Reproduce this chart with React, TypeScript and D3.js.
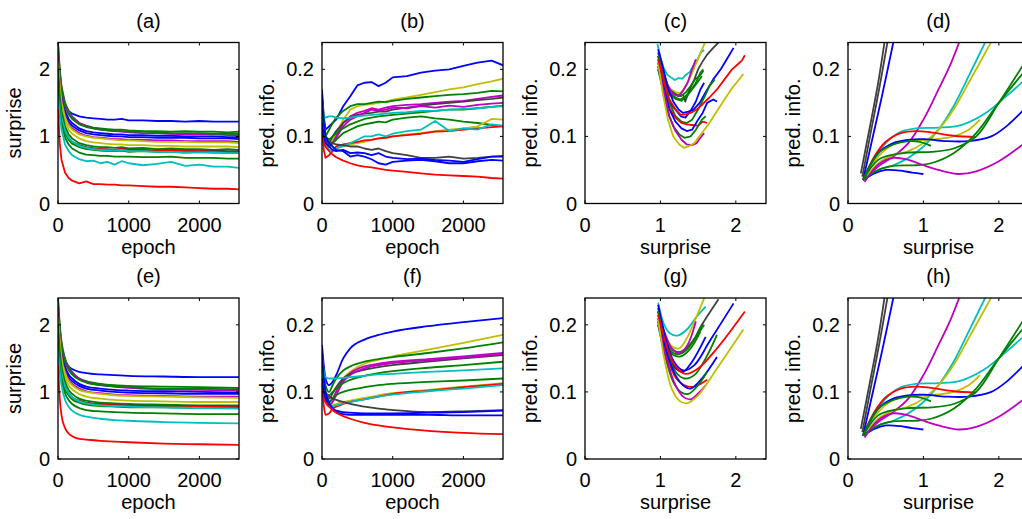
import React from 'react';
import * as d3 from 'd3';

const COLORS: Record<string, string> = {
  b: '#0000ff', g: '#008000', r: '#ff0000', c: '#00bfbf', m: '#bf00bf', y: '#bfbf00', k: '#404040',
};

// epochs for the noisy (top row) and smooth (bottom row) training curves
const epochsNoisy = [0, 25, 50, 100, 150, 200, 300, 400, 500, 600, 700, 800, 900, 1000, 1200, 1400, 1600, 1800, 2000, 2200, 2400, 2560];
const epochsSmooth = [0, 25, 50, 100, 150, 200, 300, 400, 600, 800, 1000, 1500, 2000, 2560];

const epochTicks = [0, 1000, 2000];
const surpriseTicks = [0, 1, 2];
const predTicks = [0, 0.1, 0.2];

// (a) surprise vs epoch (noisy)
const surpriseNoisy: [string, number[]][] = [
  ['b', [1.80, 1.62, 1.52, 1.44, 1.38, 1.34, 1.30, 1.28, 1.27, 1.26, 1.25, 1.25, 1.26, 1.24, 1.24, 1.23, 1.23, 1.22, 1.23, 1.22, 1.22, 1.22]],
  ['g', [2.40, 2.00, 1.75, 1.50, 1.38, 1.30, 1.20, 1.16, 1.13, 1.12, 1.11, 1.10, 1.10, 1.09, 1.08, 1.08, 1.07, 1.08, 1.07, 1.07, 1.06, 1.07]],
  ['m', [2.30, 1.95, 1.70, 1.48, 1.36, 1.28, 1.20, 1.15, 1.12, 1.10, 1.09, 1.08, 1.07, 1.06, 1.05, 1.05, 1.04, 1.03, 1.03, 1.03, 1.02, 1.02]],
  ['b', [2.20, 1.85, 1.60, 1.38, 1.26, 1.20, 1.12, 1.08, 1.06, 1.05, 1.04, 1.03, 1.03, 1.02, 1.02, 1.01, 1.01, 1.00, 1.00, 1.00, 0.99, 0.99]],
  ['b', [2.10, 1.80, 1.55, 1.32, 1.22, 1.16, 1.09, 1.05, 1.03, 1.02, 1.01, 1.00, 1.00, 0.99, 0.99, 0.98, 0.98, 0.98, 0.97, 0.97, 0.97, 0.96]],
  ['g', [2.40, 1.95, 1.70, 1.45, 1.33, 1.26, 1.18, 1.14, 1.12, 1.10, 1.09, 1.08, 1.08, 1.07, 1.07, 1.06, 1.05, 1.05, 1.05, 1.04, 1.04, 1.04]],
  ['m', [2.20, 1.80, 1.55, 1.30, 1.18, 1.12, 1.05, 1.01, 0.99, 0.98, 0.97, 0.96, 0.96, 0.95, 0.95, 0.94, 0.94, 0.93, 0.93, 0.93, 0.93, 0.92]],
  ['y', [2.10, 1.75, 1.50, 1.28, 1.16, 1.10, 1.03, 1.00, 0.98, 0.97, 0.96, 0.95, 0.94, 0.94, 0.93, 0.92, 0.92, 0.92, 0.91, 0.91, 0.91, 0.90]],
  ['y', [2.00, 1.70, 1.45, 1.22, 1.10, 1.04, 0.97, 0.93, 0.91, 0.90, 0.89, 0.88, 0.88, 0.87, 0.87, 0.86, 0.86, 0.85, 0.85, 0.85, 0.85, 0.84]],
  ['g', [2.00, 1.60, 1.38, 1.15, 1.03, 0.97, 0.90, 0.87, 0.85, 0.84, 0.84, 0.83, 0.84, 0.82, 0.83, 0.81, 0.82, 0.81, 0.81, 0.80, 0.81, 0.80]],
  ['k', [1.90, 1.50, 1.30, 1.08, 0.98, 0.92, 0.87, 0.84, 0.82, 0.81, 0.81, 0.80, 0.82, 0.80, 0.80, 0.79, 0.80, 0.79, 0.78, 0.79, 0.78, 0.78]],
  ['r', [1.80, 1.45, 1.25, 1.05, 0.96, 0.91, 0.86, 0.83, 0.82, 0.81, 0.80, 0.80, 0.81, 0.80, 0.79, 0.78, 0.79, 0.78, 0.78, 0.77, 0.77, 0.77]],
  ['g', [1.90, 1.50, 1.28, 1.05, 0.95, 0.89, 0.84, 0.81, 0.80, 0.79, 0.78, 0.78, 0.79, 0.77, 0.78, 0.77, 0.77, 0.76, 0.77, 0.76, 0.76, 0.76]],
  ['c', [1.70, 1.45, 1.28, 1.08, 0.98, 0.92, 0.86, 0.83, 0.81, 0.80, 0.79, 0.79, 0.80, 0.78, 0.78, 0.77, 0.77, 0.76, 0.76, 0.76, 0.75, 0.75]],
  ['g', [1.80, 1.40, 1.20, 0.98, 0.88, 0.82, 0.76, 0.73, 0.72, 0.71, 0.71, 0.70, 0.70, 0.70, 0.69, 0.69, 0.70, 0.68, 0.68, 0.68, 0.67, 0.67]],
  ['c', [1.60, 1.30, 1.10, 0.88, 0.78, 0.72, 0.66, 0.63, 0.64, 0.60, 0.62, 0.58, 0.63, 0.60, 0.57, 0.59, 0.62, 0.56, 0.58, 0.55, 0.55, 0.53]],
  ['r', [1.40, 0.90, 0.65, 0.46, 0.38, 0.34, 0.30, 0.33, 0.29, 0.29, 0.28, 0.28, 0.27, 0.27, 0.26, 0.25, 0.25, 0.24, 0.23, 0.22, 0.22, 0.21]],
];

// (e) surprise vs epoch (smooth)
const surpriseSmooth: [string, number[]][] = [
  ['b', [1.80, 1.65, 1.55, 1.45, 1.38, 1.34, 1.30, 1.28, 1.26, 1.25, 1.24, 1.23, 1.22, 1.22]],
  ['g', [2.40, 2.00, 1.75, 1.50, 1.38, 1.30, 1.20, 1.16, 1.12, 1.10, 1.09, 1.08, 1.07, 1.06]],
  ['m', [2.30, 1.95, 1.70, 1.48, 1.36, 1.28, 1.20, 1.15, 1.10, 1.08, 1.06, 1.04, 1.03, 1.02]],
  ['b', [2.20, 1.85, 1.60, 1.38, 1.26, 1.20, 1.12, 1.08, 1.05, 1.03, 1.02, 1.01, 1.00, 0.99]],
  ['b', [2.10, 1.80, 1.55, 1.32, 1.22, 1.16, 1.09, 1.05, 1.02, 1.00, 0.99, 0.98, 0.97, 0.97]],
  ['g', [2.40, 1.95, 1.70, 1.45, 1.33, 1.26, 1.18, 1.14, 1.10, 1.08, 1.07, 1.05, 1.05, 1.04]],
  ['m', [2.20, 1.80, 1.55, 1.30, 1.18, 1.12, 1.05, 1.01, 0.98, 0.96, 0.95, 0.94, 0.93, 0.93]],
  ['y', [2.10, 1.75, 1.50, 1.28, 1.16, 1.10, 1.03, 1.00, 0.97, 0.95, 0.94, 0.93, 0.92, 0.91]],
  ['y', [2.00, 1.70, 1.45, 1.22, 1.10, 1.04, 0.97, 0.93, 0.90, 0.88, 0.87, 0.86, 0.85, 0.85]],
  ['g', [2.00, 1.60, 1.38, 1.15, 1.03, 0.97, 0.90, 0.87, 0.84, 0.83, 0.82, 0.81, 0.80, 0.80]],
  ['k', [1.90, 1.50, 1.30, 1.08, 0.98, 0.92, 0.87, 0.84, 0.82, 0.81, 0.80, 0.79, 0.79, 0.78]],
  ['r', [1.80, 1.45, 1.25, 1.05, 0.96, 0.91, 0.86, 0.83, 0.81, 0.80, 0.79, 0.78, 0.78, 0.77]],
  ['g', [1.90, 1.50, 1.28, 1.05, 0.95, 0.89, 0.84, 0.81, 0.79, 0.78, 0.77, 0.77, 0.76, 0.76]],
  ['c', [1.70, 1.45, 1.28, 1.08, 0.98, 0.92, 0.86, 0.83, 0.80, 0.79, 0.78, 0.77, 0.76, 0.75]],
  ['g', [1.80, 1.40, 1.20, 0.98, 0.88, 0.82, 0.76, 0.73, 0.71, 0.70, 0.69, 0.68, 0.67, 0.67]],
  ['c', [1.60, 1.30, 1.10, 0.88, 0.78, 0.72, 0.66, 0.63, 0.60, 0.58, 0.57, 0.55, 0.54, 0.53]],
  ['r', [1.40, 0.90, 0.65, 0.46, 0.38, 0.34, 0.30, 0.29, 0.27, 0.26, 0.25, 0.23, 0.22, 0.21]],
];

// (b) predictive information vs epoch (noisy)
const predNoisy: [string, number[]][] = [
  ['b', [0.170, 0.130, 0.110, 0.115, 0.120, 0.125, 0.145, 0.160, 0.176, 0.180, 0.181, 0.175, 0.180, 0.188, 0.190, 0.195, 0.198, 0.200, 0.205, 0.210, 0.213, 0.206]],
  ['y', [0.150, 0.120, 0.100, 0.088, 0.095, 0.105, 0.125, 0.140, 0.145, 0.147, 0.148, 0.150, 0.152, 0.155, 0.158, 0.162, 0.166, 0.170, 0.173, 0.178, 0.182, 0.186]],
  ['g', [0.160, 0.125, 0.100, 0.110, 0.120, 0.128, 0.138, 0.145, 0.148, 0.148, 0.150, 0.152, 0.151, 0.153, 0.156, 0.158, 0.160, 0.162, 0.163, 0.165, 0.168, 0.167]],
  ['m', [0.140, 0.110, 0.090, 0.085, 0.090, 0.100, 0.120, 0.130, 0.135, 0.138, 0.142, 0.140, 0.143, 0.145, 0.147, 0.148, 0.150, 0.152, 0.153, 0.156, 0.159, 0.161]],
  ['k', [0.120, 0.105, 0.095, 0.090, 0.100, 0.108, 0.120, 0.128, 0.132, 0.134, 0.135, 0.137, 0.137, 0.140, 0.143, 0.146, 0.148, 0.150, 0.152, 0.154, 0.156, 0.158]],
  ['m', [0.130, 0.110, 0.095, 0.085, 0.090, 0.098, 0.115, 0.125, 0.130, 0.135, 0.140, 0.138, 0.140, 0.143, 0.142, 0.145, 0.143, 0.146, 0.144, 0.147, 0.149, 0.150]],
  ['g', [0.130, 0.110, 0.100, 0.095, 0.100, 0.105, 0.112, 0.118, 0.122, 0.126, 0.128, 0.130, 0.131, 0.132, 0.134, 0.136, 0.138, 0.140, 0.140, 0.142, 0.144, 0.146]],
  ['c', [0.150, 0.130, 0.128, 0.130, 0.130, 0.128, 0.127, 0.128, 0.130, 0.131, 0.132, 0.133, 0.134, 0.135, 0.136, 0.138, 0.138, 0.140, 0.141, 0.142, 0.144, 0.145]],
  ['g', [0.140, 0.110, 0.090, 0.085, 0.090, 0.095, 0.105, 0.110, 0.115, 0.118, 0.120, 0.122, 0.121, 0.125, 0.128, 0.130, 0.127, 0.125, 0.122, 0.120, 0.117, 0.115]],
  ['y', [0.120, 0.100, 0.085, 0.080, 0.080, 0.082, 0.085, 0.088, 0.090, 0.092, 0.095, 0.097, 0.098, 0.100, 0.103, 0.105, 0.108, 0.110, 0.112, 0.115, 0.126, 0.125]],
  ['r', [0.110, 0.080, 0.068, 0.072, 0.078, 0.085, 0.088, 0.090, 0.092, 0.094, 0.095, 0.097, 0.098, 0.100, 0.102, 0.104, 0.107, 0.108, 0.110, 0.112, 0.114, 0.115]],
  ['c', [0.130, 0.100, 0.085, 0.080, 0.080, 0.082, 0.086, 0.090, 0.095, 0.100, 0.100, 0.103, 0.100, 0.104, 0.108, 0.110, 0.123, 0.108, 0.112, 0.110, 0.118, 0.116]],
  ['k', [0.100, 0.098, 0.095, 0.092, 0.090, 0.088, 0.087, 0.085, 0.085, 0.082, 0.080, 0.082, 0.078, 0.075, 0.072, 0.068, 0.068, 0.070, 0.067, 0.068, 0.070, 0.071]],
  ['b', [0.120, 0.100, 0.090, 0.085, 0.080, 0.078, 0.080, 0.075, 0.076, 0.075, 0.072, 0.075, 0.070, 0.068, 0.066, 0.067, 0.065, 0.064, 0.062, 0.066, 0.070, 0.070]],
  ['b', [0.160, 0.120, 0.100, 0.090, 0.085, 0.080, 0.078, 0.070, 0.072, 0.070, 0.066, 0.060, 0.058, 0.062, 0.064, 0.065, 0.063, 0.060, 0.060, 0.063, 0.065, 0.064]],
  ['r', [0.100, 0.090, 0.085, 0.078, 0.073, 0.069, 0.064, 0.060, 0.057, 0.055, 0.054, 0.052, 0.050, 0.049, 0.047, 0.045, 0.043, 0.042, 0.041, 0.040, 0.038, 0.037]],
];

// (f) predictive information vs epoch (smooth)
const predSmooth: [string, number[]][] = [
  ['b', [0.170, 0.140, 0.120, 0.110, 0.115, 0.125, 0.150, 0.165, 0.178, 0.185, 0.190, 0.198, 0.204, 0.210]],
  ['y', [0.150, 0.120, 0.100, 0.085, 0.090, 0.100, 0.120, 0.130, 0.142, 0.148, 0.153, 0.163, 0.173, 0.185]],
  ['g', [0.160, 0.130, 0.110, 0.100, 0.110, 0.120, 0.132, 0.138, 0.145, 0.149, 0.152, 0.158, 0.165, 0.174]],
  ['m', [0.130, 0.110, 0.095, 0.085, 0.090, 0.100, 0.118, 0.128, 0.138, 0.142, 0.145, 0.149, 0.153, 0.158]],
  ['k', [0.120, 0.105, 0.095, 0.090, 0.098, 0.107, 0.120, 0.127, 0.133, 0.137, 0.140, 0.145, 0.150, 0.155]],
  ['m', [0.140, 0.110, 0.090, 0.080, 0.085, 0.095, 0.115, 0.125, 0.135, 0.140, 0.143, 0.147, 0.151, 0.156]],
  ['g', [0.130, 0.110, 0.100, 0.095, 0.100, 0.105, 0.113, 0.118, 0.124, 0.128, 0.131, 0.136, 0.140, 0.145]],
  ['c', [0.150, 0.130, 0.122, 0.120, 0.120, 0.120, 0.121, 0.122, 0.124, 0.126, 0.127, 0.130, 0.132, 0.135]],
  ['g', [0.140, 0.110, 0.090, 0.085, 0.090, 0.095, 0.100, 0.103, 0.107, 0.110, 0.112, 0.115, 0.117, 0.120]],
  ['y', [0.120, 0.100, 0.085, 0.078, 0.080, 0.082, 0.085, 0.087, 0.091, 0.095, 0.098, 0.103, 0.108, 0.113]],
  ['r', [0.110, 0.080, 0.066, 0.068, 0.075, 0.078, 0.082, 0.085, 0.089, 0.093, 0.097, 0.102, 0.107, 0.112]],
  ['c', [0.130, 0.100, 0.085, 0.080, 0.079, 0.080, 0.083, 0.085, 0.089, 0.093, 0.096, 0.101, 0.105, 0.110]],
  ['k', [0.100, 0.098, 0.096, 0.093, 0.090, 0.088, 0.085, 0.082, 0.078, 0.075, 0.073, 0.070, 0.071, 0.073]],
  ['b', [0.120, 0.100, 0.090, 0.080, 0.075, 0.072, 0.070, 0.069, 0.068, 0.068, 0.068, 0.069, 0.070, 0.072]],
  ['b', [0.160, 0.120, 0.100, 0.085, 0.075, 0.070, 0.067, 0.066, 0.066, 0.066, 0.066, 0.066, 0.065, 0.065]],
  ['r', [0.100, 0.090, 0.085, 0.078, 0.073, 0.069, 0.064, 0.060, 0.054, 0.050, 0.047, 0.042, 0.039, 0.037]],
];

// (c) information plane trajectories (noisy): [surprise, pred. info.]
const planeNoisy: [string, [number, number][]][] = [
  ['c', [[0.96, 0.238], [1.0, 0.218], [1.04, 0.203], [1.09, 0.192], [1.14, 0.188], [1.19, 0.184], [1.24, 0.187], [1.29, 0.186], [1.34, 0.192], [1.39, 0.196], [1.44, 0.206], [1.49, 0.214], [1.54, 0.226], [1.58, 0.229]]],
  ['y', [[0.97, 0.225], [1.02, 0.2], [1.08, 0.18], [1.14, 0.17], [1.2, 0.166], [1.26, 0.164], [1.32, 0.172], [1.38, 0.184], [1.44, 0.2], [1.5, 0.216], [1.56, 0.232], [1.6, 0.242]]],
  ['k', [[0.97, 0.22], [1.04, 0.19], [1.1, 0.172], [1.17, 0.165], [1.24, 0.16], [1.3, 0.162], [1.33, 0.152], [1.38, 0.168], [1.45, 0.185], [1.5, 0.2], [1.55, 0.21], [1.62, 0.222], [1.7, 0.232], [1.77, 0.24]]],
  ['g', [[0.97, 0.215], [1.05, 0.182], [1.12, 0.165], [1.2, 0.158], [1.27, 0.155], [1.33, 0.16], [1.4, 0.168], [1.47, 0.18], [1.53, 0.195], [1.57, 0.2]]],
  ['g', [[0.97, 0.22], [1.05, 0.19], [1.12, 0.17], [1.2, 0.163], [1.27, 0.16], [1.34, 0.166], [1.4, 0.175], [1.46, 0.185], [1.52, 0.19], [1.57, 0.198]]],
  ['g', [[0.97, 0.21], [1.05, 0.178], [1.12, 0.162], [1.2, 0.156], [1.28, 0.153], [1.35, 0.16], [1.42, 0.17], [1.5, 0.182], [1.55, 0.19]]],
  ['m', [[0.97, 0.225], [1.04, 0.195], [1.1, 0.175], [1.17, 0.163], [1.24, 0.16], [1.3, 0.168], [1.36, 0.18], [1.42, 0.2], [1.47, 0.215]]],
  ['b', [[0.97, 0.23], [1.04, 0.2], [1.1, 0.172], [1.17, 0.152], [1.24, 0.14], [1.3, 0.135], [1.37, 0.137], [1.44, 0.14], [1.52, 0.15], [1.6, 0.166], [1.7, 0.185], [1.8, 0.2], [1.88, 0.215], [1.97, 0.232]]],
  ['b', [[0.97, 0.2], [1.05, 0.17], [1.12, 0.15], [1.2, 0.14], [1.27, 0.13], [1.33, 0.128], [1.4, 0.138], [1.47, 0.152], [1.53, 0.17], [1.58, 0.18]]],
  ['g', [[0.97, 0.22], [1.05, 0.18], [1.12, 0.15], [1.2, 0.13], [1.28, 0.122], [1.35, 0.12], [1.42, 0.125], [1.5, 0.14], [1.58, 0.158], [1.65, 0.175], [1.72, 0.185]]],
  ['r', [[0.97, 0.205], [1.05, 0.17], [1.12, 0.142], [1.2, 0.128], [1.28, 0.12], [1.35, 0.118], [1.42, 0.117], [1.5, 0.116], [1.56, 0.122], [1.62, 0.12]]],
  ['b', [[0.97, 0.21], [1.05, 0.17], [1.12, 0.14], [1.2, 0.122], [1.28, 0.112], [1.35, 0.108], [1.42, 0.11], [1.5, 0.125], [1.56, 0.135], [1.62, 0.15], [1.7, 0.155], [1.75, 0.152]]],
  ['g', [[0.97, 0.2], [1.04, 0.165], [1.1, 0.135], [1.17, 0.115], [1.25, 0.103], [1.32, 0.098], [1.4, 0.1], [1.47, 0.11], [1.55, 0.125], [1.6, 0.13]]],
  ['m', [[0.97, 0.205], [1.05, 0.165], [1.12, 0.13], [1.2, 0.108], [1.28, 0.095], [1.35, 0.088], [1.42, 0.087], [1.48, 0.09], [1.53, 0.098], [1.58, 0.105]]],
  ['y', [[0.97, 0.21], [1.03, 0.165], [1.1, 0.125], [1.17, 0.1], [1.25, 0.088], [1.31, 0.083], [1.37, 0.085], [1.45, 0.09], [1.55, 0.105], [1.65, 0.12], [1.75, 0.138], [1.85, 0.155], [1.95, 0.172], [2.03, 0.183], [2.1, 0.193]]],
  ['r', [[0.97, 0.215], [1.05, 0.18], [1.12, 0.155], [1.2, 0.14], [1.27, 0.132], [1.33, 0.133], [1.4, 0.135], [1.48, 0.14], [1.56, 0.148], [1.65, 0.158], [1.75, 0.17], [1.85, 0.185], [1.95, 0.2], [2.03, 0.208], [2.08, 0.213], [2.12, 0.221]]],
];

// (g) information plane trajectories (smooth)
const planeSmooth: [string, [number, number][]][] = [
  ['c', [[0.97, 0.233], [1.05, 0.2], [1.13, 0.187], [1.23, 0.184], [1.35, 0.193], [1.48, 0.212], [1.6, 0.227]]],
  ['y', [[0.97, 0.225], [1.05, 0.19], [1.15, 0.168], [1.25, 0.165], [1.35, 0.18], [1.47, 0.21], [1.6, 0.245]]],
  ['k', [[0.97, 0.22], [1.07, 0.18], [1.17, 0.162], [1.27, 0.158], [1.4, 0.17], [1.55, 0.2], [1.77, 0.238]]],
  ['g', [[0.97, 0.215], [1.07, 0.175], [1.17, 0.158], [1.27, 0.157], [1.4, 0.17], [1.55, 0.2]]],
  ['g', [[0.97, 0.22], [1.07, 0.18], [1.17, 0.162], [1.27, 0.16], [1.4, 0.172], [1.58, 0.2]]],
  ['g', [[0.97, 0.21], [1.07, 0.17], [1.17, 0.155], [1.27, 0.153], [1.4, 0.165], [1.53, 0.19]]],
  ['m', [[0.97, 0.225], [1.05, 0.19], [1.15, 0.165], [1.25, 0.158], [1.35, 0.168], [1.47, 0.205]]],
  ['b', [[0.97, 0.23], [1.07, 0.18], [1.18, 0.145], [1.3, 0.132], [1.45, 0.14], [1.65, 0.175], [1.97, 0.232]]],
  ['b', [[0.97, 0.2], [1.08, 0.16], [1.2, 0.135], [1.3, 0.13], [1.42, 0.145], [1.6, 0.182]]],
  ['g', [[0.97, 0.22], [1.08, 0.165], [1.2, 0.13], [1.32, 0.12], [1.45, 0.125], [1.6, 0.15], [1.75, 0.185]]],
  ['r', [[0.97, 0.205], [1.08, 0.155], [1.2, 0.122], [1.32, 0.11], [1.45, 0.108], [1.62, 0.118]]],
  ['b', [[0.97, 0.21], [1.08, 0.16], [1.2, 0.125], [1.3, 0.11], [1.4, 0.105], [1.55, 0.12], [1.75, 0.152]]],
  ['g', [[0.97, 0.2], [1.07, 0.15], [1.17, 0.115], [1.27, 0.1], [1.37, 0.097], [1.5, 0.11], [1.62, 0.13]]],
  ['m', [[0.97, 0.205], [1.08, 0.15], [1.2, 0.11], [1.3, 0.093], [1.4, 0.089], [1.52, 0.1], [1.6, 0.11]]],
  ['y', [[0.97, 0.21], [1.05, 0.15], [1.15, 0.105], [1.25, 0.087], [1.35, 0.083], [1.5, 0.095], [1.75, 0.135], [2.1, 0.193]]],
  ['r', [[0.97, 0.215], [1.08, 0.17], [1.2, 0.138], [1.33, 0.127], [1.5, 0.135], [1.75, 0.165], [2.12, 0.22]]],
];

// (d) and (h) information plane trajectories, second set
const planeAlt: [string, [number, number][]][] = [
  ['k', [[0.17, 0.045], [0.3, 0.12], [0.4, 0.18], [0.49, 0.245]]],
  ['k', [[0.19, 0.04], [0.3, 0.105], [0.42, 0.175], [0.53, 0.245]]],
  ['b', [[0.2, 0.035], [0.3, 0.085], [0.45, 0.16], [0.61, 0.245]]],
  ['m', [[0.22, 0.035], [0.4, 0.055], [0.6, 0.07], [0.8, 0.09], [1.0, 0.125], [1.2, 0.17], [1.35, 0.205], [1.49, 0.245]]],
  ['c', [[0.2, 0.035], [0.35, 0.065], [0.5, 0.09], [0.7, 0.107], [0.9, 0.112], [1.2, 0.113], [1.5, 0.117], [1.8, 0.133], [2.1, 0.16], [2.4, 0.19]]],
  ['c', [[0.22, 0.035], [0.4, 0.05], [0.6, 0.057], [0.8, 0.068], [1.0, 0.085], [1.2, 0.11], [1.4, 0.145], [1.6, 0.19], [1.84, 0.245]]],
  ['y', [[0.22, 0.035], [0.4, 0.06], [0.6, 0.072], [0.8, 0.078], [1.0, 0.09], [1.2, 0.11], [1.4, 0.14], [1.6, 0.18], [1.92, 0.245]]],
  ['y', [[0.2, 0.035], [0.4, 0.07], [0.6, 0.088], [0.8, 0.094], [1.1, 0.095], [1.4, 0.1], [1.6, 0.11], [1.75, 0.125]]],
  ['r', [[0.2, 0.035], [0.35, 0.07], [0.5, 0.092], [0.7, 0.105], [0.9, 0.108], [1.1, 0.106], [1.4, 0.101], [1.7, 0.099]]],
  ['b', [[0.2, 0.035], [0.4, 0.075], [0.6, 0.09], [0.8, 0.095], [1.0, 0.096], [1.3, 0.093], [1.6, 0.093], [1.9, 0.1], [2.1, 0.115], [2.4, 0.148]]],
  ['b', [[0.2, 0.035], [0.35, 0.045], [0.5, 0.05], [0.7, 0.049], [0.85, 0.046], [1.0, 0.044]]],
  ['g', [[0.2, 0.035], [0.4, 0.075], [0.6, 0.088], [0.8, 0.093], [0.95, 0.092], [1.1, 0.086]]],
  ['g', [[0.2, 0.035], [0.4, 0.065], [0.6, 0.073], [0.8, 0.076], [1.1, 0.077], [1.4, 0.082], [1.7, 0.1], [2.0, 0.15], [2.4, 0.22]]],
  ['g', [[0.2, 0.035], [0.4, 0.05], [0.6, 0.056], [0.9, 0.057], [1.1, 0.06], [1.4, 0.075], [1.7, 0.105], [2.0, 0.15], [2.4, 0.205]]],
  ['m', [[0.22, 0.032], [0.4, 0.058], [0.6, 0.068], [0.8, 0.065], [1.0, 0.057], [1.2, 0.05], [1.47, 0.044], [1.7, 0.048], [2.0, 0.063], [2.4, 0.095]]],
];

const titles = ['(a)', '(b)', '(c)', '(d)', '(e)', '(f)', '(g)', '(h)'];

type Series = { color: string; pts: [number, number][] };

const fromEpochs = (epochs: number[], list: [string, number[]][]): Series[] =>
  list.map(([c, vals]) => ({ color: COLORS[c], pts: vals.map((v, i) => [epochs[i], v] as [number, number]) }));
const fromPairs = (list: [string, [number, number][]][]): Series[] =>
  list.map(([c, pts]) => ({ color: COLORS[c], pts }));

const FONT = 'Liberation Sans, Arial, Helvetica, sans-serif';
const FS = 20;
const PW = 181;
const PH = 161;
const LEFTS = [58, 322, 585, 848];
const TOPS = [42.5, 298];

type PanelProps = {
  id: string; left: number; top: number; title: string;
  xDomain: [number, number]; yDomain: [number, number];
  xTicks: number[]; yTicks: number[]; xLabel: string; yLabel: string; yLabelOffset: number;
  series: Series[]; curve: d3.CurveFactory;
};

function Panel(p: PanelProps) {
  const x = d3.scaleLinear().domain(p.xDomain).range([0, PW]);
  const y = d3.scaleLinear().domain(p.yDomain).range([PH, 0]);
  const line = d3.line<[number, number]>().x(d => x(d[0])).y(d => y(d[1])).curve(p.curve);
  const tl = 3;
  return (
    <g transform={`translate(${p.left},${p.top})`}>
      <defs>
        <clipPath id={p.id}><rect x={0} y={0} width={PW} height={PH} /></clipPath>
      </defs>
      <g clipPath={`url(#${p.id})`}>
        {p.series.map((s, i) => (
          <path key={i} d={line(s.pts) || ''} fill="none" stroke={s.color} strokeWidth={1.8} strokeLinejoin="round" />
        ))}
      </g>
      <rect x={0} y={0} width={PW} height={PH} fill="none" stroke="#000" strokeWidth={1.3} />
      {p.xTicks.map(t => (
        <g key={'x' + t}>
          <line x1={x(t)} x2={x(t)} y1={PH} y2={PH - tl} stroke="#000" />
          <line x1={x(t)} x2={x(t)} y1={0} y2={tl} stroke="#000" />
          <text x={x(t)} y={PH + 28} textAnchor="middle" fontSize={FS} fontFamily={FONT}>{String(t)}</text>
        </g>
      ))}
      {p.yTicks.map(t => (
        <g key={'y' + t}>
          <line x1={0} x2={tl} y1={y(t)} y2={y(t)} stroke="#000" />
          <line x1={PW} x2={PW - tl} y1={y(t)} y2={y(t)} stroke="#000" />
          <text x={-8} y={y(t) + 7} textAnchor="end" fontSize={FS} fontFamily={FONT}>{String(t)}</text>
        </g>
      ))}
      <text x={PW / 2} y={PH + 50} textAnchor="middle" fontSize={FS} fontFamily={FONT}>{p.xLabel}</text>
      <text transform={`translate(${-p.yLabelOffset},${PH / 2}) rotate(-90)`} textAnchor="middle" fontSize={FS} fontFamily={FONT}>{p.yLabel}</text>
      <text x={PW / 2} y={-15} textAnchor="middle" fontSize={FS} fontFamily={FONT}>{p.title}</text>
    </g>
  );
}

export default function App() {
  const panels = [
    { xDomain: [0, 2560], yDomain: [0, 2.4], xTicks: epochTicks, yTicks: surpriseTicks, xLabel: 'epoch', yLabel: 'surprise', yLabelOffset: 37, series: fromEpochs(epochsNoisy, surpriseNoisy), curve: d3.curveLinear },
    { xDomain: [0, 2560], yDomain: [0, 0.24], xTicks: epochTicks, yTicks: predTicks, xLabel: 'epoch', yLabel: 'pred. info.', yLabelOffset: 48, series: fromEpochs(epochsNoisy, predNoisy), curve: d3.curveLinear },
    { xDomain: [0, 2.4], yDomain: [0, 0.24], xTicks: surpriseTicks, yTicks: predTicks, xLabel: 'surprise', yLabel: 'pred. info.', yLabelOffset: 48, series: fromPairs(planeNoisy), curve: d3.curveLinear },
    { xDomain: [0, 2.4], yDomain: [0, 0.24], xTicks: surpriseTicks, yTicks: predTicks, xLabel: 'surprise', yLabel: 'pred. info.', yLabelOffset: 48, series: fromPairs(planeAlt), curve: d3.curveCatmullRom },
    { xDomain: [0, 2560], yDomain: [0, 2.4], xTicks: epochTicks, yTicks: surpriseTicks, xLabel: 'epoch', yLabel: 'surprise', yLabelOffset: 37, series: fromEpochs(epochsSmooth, surpriseSmooth), curve: d3.curveMonotoneX },
    { xDomain: [0, 2560], yDomain: [0, 0.24], xTicks: epochTicks, yTicks: predTicks, xLabel: 'epoch', yLabel: 'pred. info.', yLabelOffset: 48, series: fromEpochs(epochsSmooth, predSmooth), curve: d3.curveMonotoneX },
    { xDomain: [0, 2.4], yDomain: [0, 0.24], xTicks: surpriseTicks, yTicks: predTicks, xLabel: 'surprise', yLabel: 'pred. info.', yLabelOffset: 48, series: fromPairs(planeSmooth), curve: d3.curveCatmullRom },
    { xDomain: [0, 2.4], yDomain: [0, 0.24], xTicks: surpriseTicks, yTicks: predTicks, xLabel: 'surprise', yLabel: 'pred. info.', yLabelOffset: 48, series: fromPairs(planeAlt), curve: d3.curveCatmullRom },
  ];
  return (
    <svg width={1022} height={519} style={{ position: 'absolute', left: 0, top: 0, background: '#fff' }}>
      <rect width={1022} height={519} fill="#fff" />
      {panels.map((p, i) => (
        <Panel key={i} id={`clip${i}`} left={LEFTS[i % 4]} top={TOPS[Math.floor(i / 4)]} title={titles[i]}
          xDomain={p.xDomain as [number, number]} yDomain={p.yDomain as [number, number]}
          xTicks={p.xTicks} yTicks={p.yTicks} xLabel={p.xLabel} yLabel={p.yLabel} yLabelOffset={p.yLabelOffset}
          series={p.series} curve={p.curve} />
      ))}
    </svg>
  );
}
